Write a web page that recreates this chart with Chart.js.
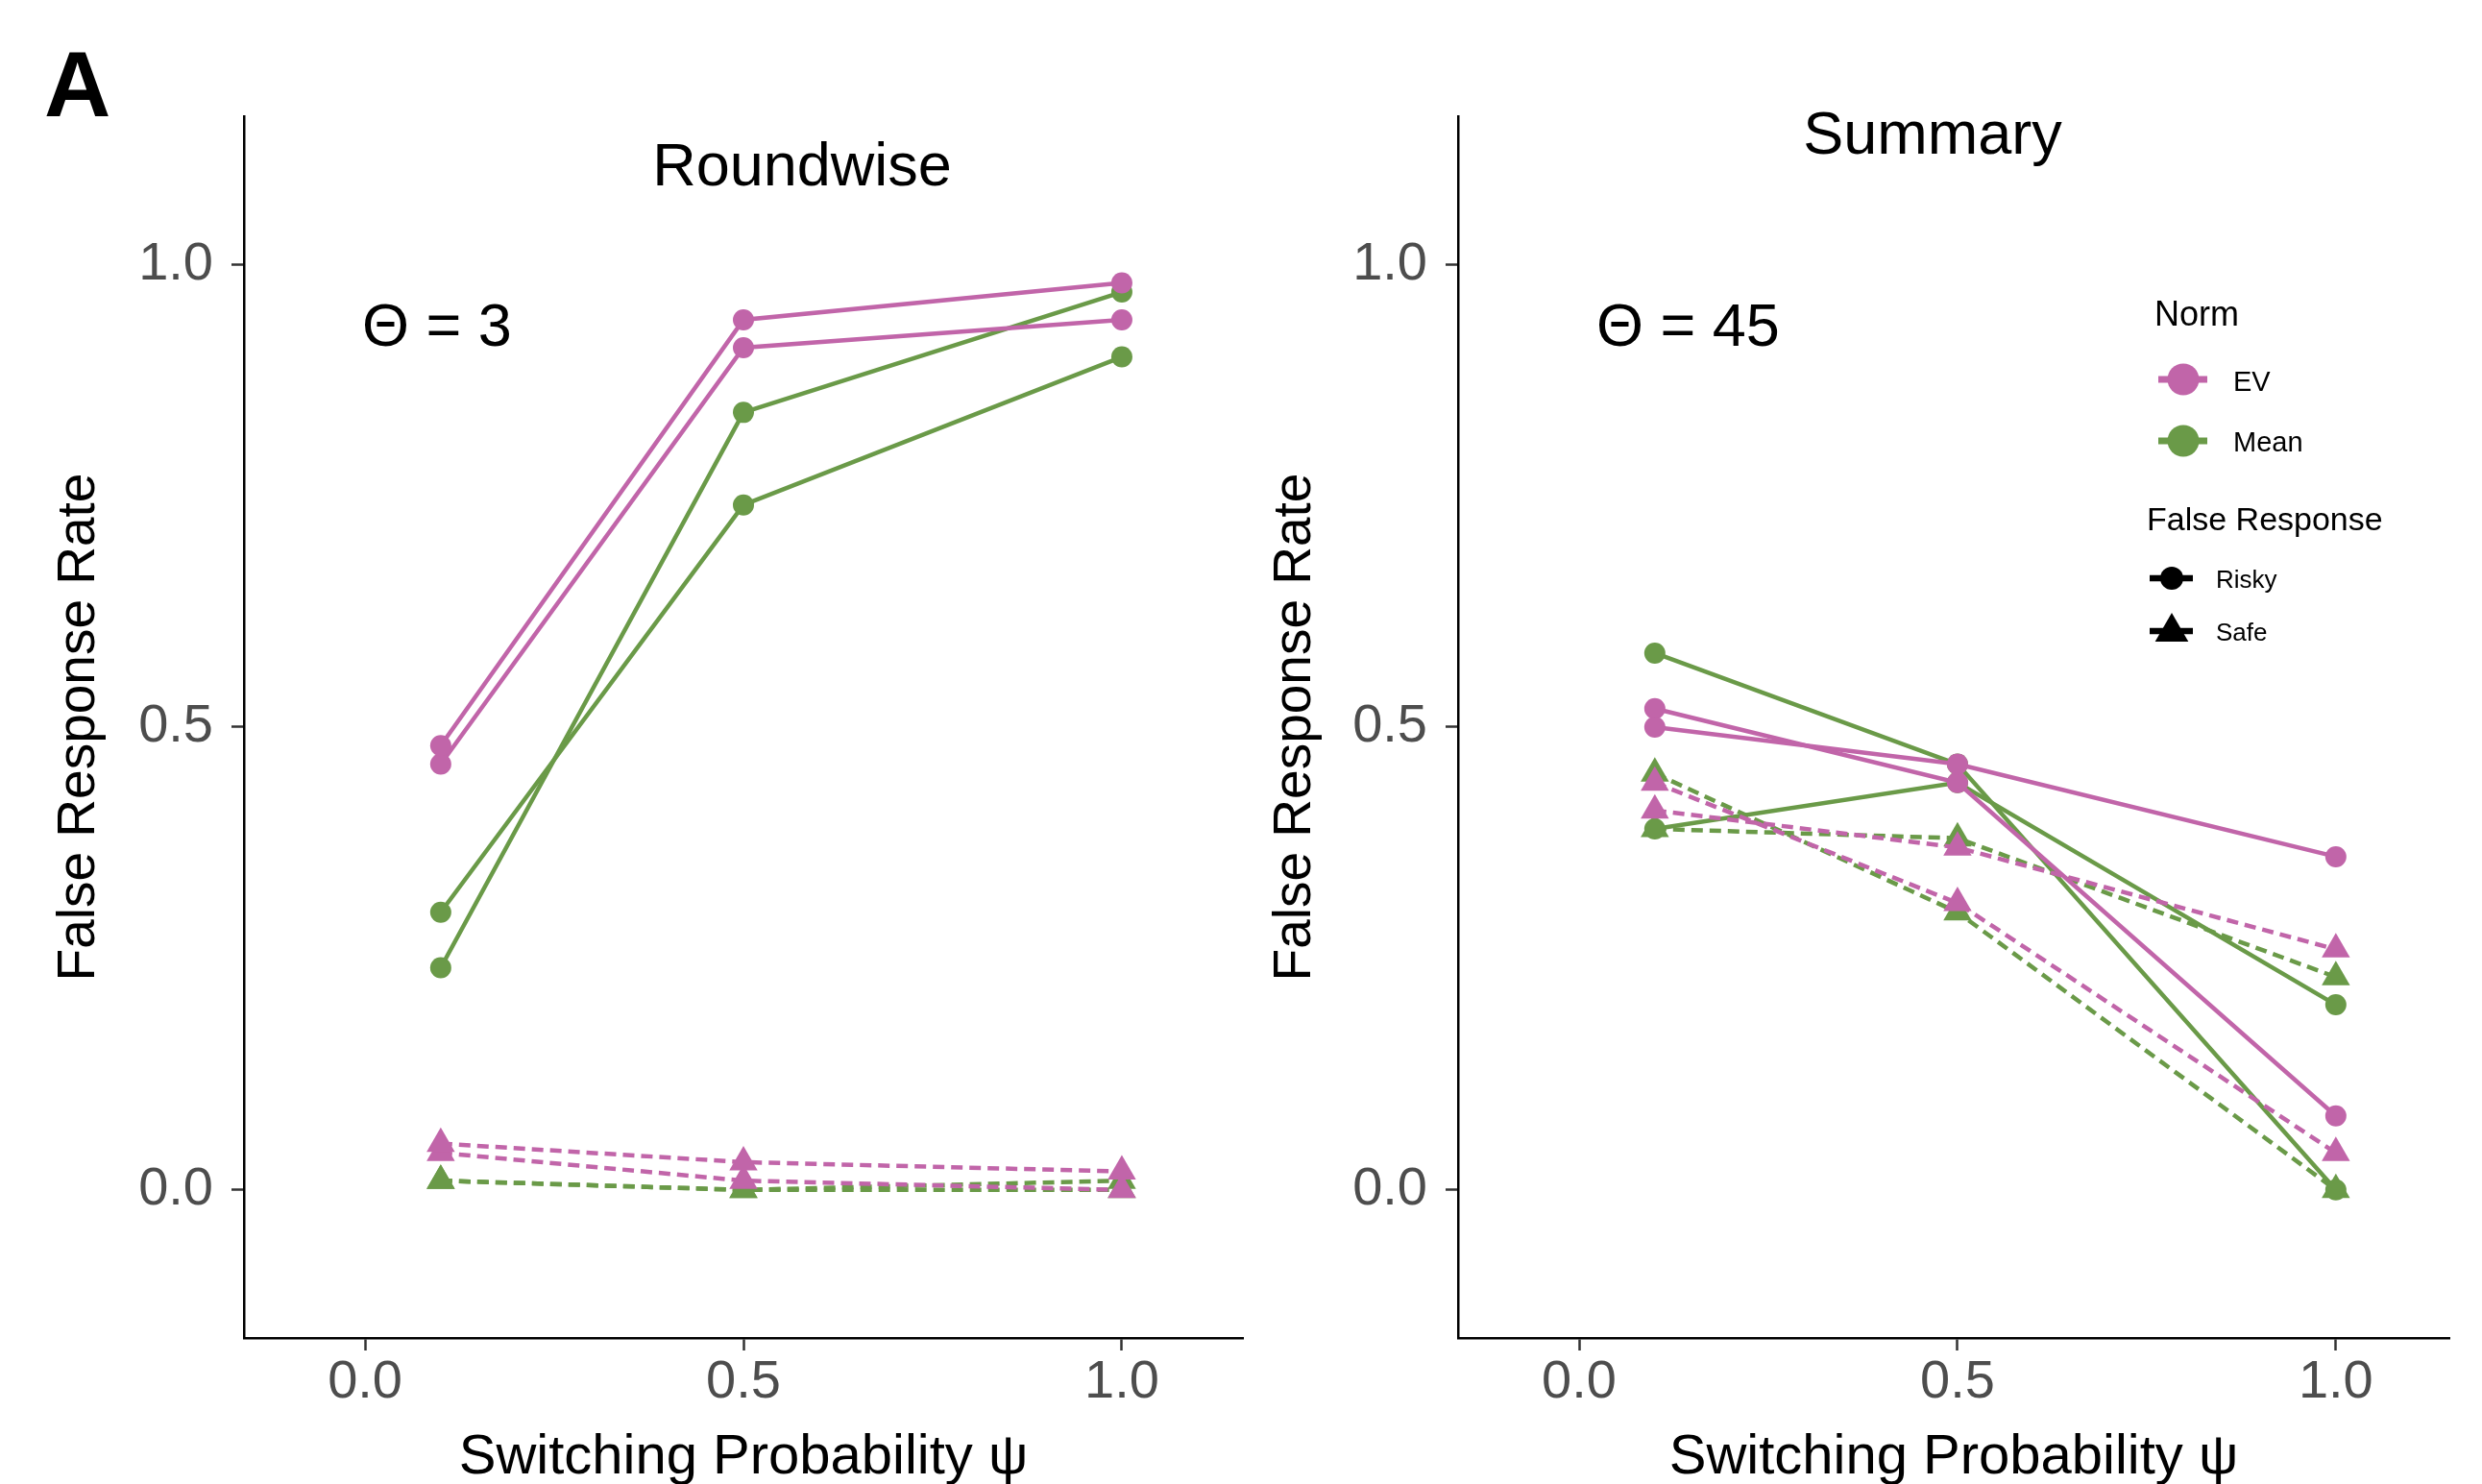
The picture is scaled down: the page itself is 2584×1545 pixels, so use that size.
<!DOCTYPE html>
<html>
<head>
<meta charset="utf-8">
<script src="https://cdn.jsdelivr.net/npm/chart.js@4.4.1/dist/chart.umd.min.js"></script>
<style>
    body { margin: 0; background: #fff; }
    #wrap { position: relative; width: 2584px; height: 1545px; }
    canvas { position: absolute; top: 0; }
</style>
</head>
<body>
<div id="wrap">
    <canvas id="roundwise" width="1300" height="1545" style="left:0px"></canvas>
    <canvas id="summary" width="1284" height="1545" style="left:1300px"></canvas>
</div>
<script>
// x positions (switching probability) and axis ticks
const psi = [0.1, 0.5, 1.0];
const xTicks = [0, 0.5, 1.0];
const yTicks = [0, 0.5, 1.0];

// Roundwise panel, theta = 3
const roundRiskyEV = [[0.48, 0.94, 0.98], [0.46, 0.91, 0.94]];
const roundRiskyMean = [[0.24, 0.84, 0.97], [0.30, 0.74, 0.90]];
const roundSafeEV = [[0.05, 0.03, 0.02], [0.04, 0.01, 0.00]];
const roundSafeMean = [[0.01, 0.00, 0.01], [0.01, 0.00, 0.00]];

// Summary panel, theta = 45
const sumRiskyEV = [[0.50, 0.46, 0.36], [0.52, 0.44, 0.08]];
const sumRiskyMean = [[0.58, 0.46, 0.00], [0.39, 0.44, 0.20]];
const sumSafeEV = [[0.44, 0.31, 0.04], [0.41, 0.37, 0.26]];
const sumSafeMean = [[0.45, 0.30, 0.00], [0.39, 0.38, 0.23]];

const PINK = '#C165A9';
const GREEN = '#6A9A48';
const FONT = '"Liberation Sans", Arial, Helvetica, sans-serif';

function series(values, color, shape) {
    const safe = shape === 'triangle';
    return {
        data: values.map((v, i) => ({ x: psi[i], y: v })),
        borderColor: color,
        backgroundColor: color,
        borderWidth: 4.5,
        borderDash: safe ? [12, 7] : [],
        pointStyle: shape,
        pointRadius: safe ? 17 : 11,
        pointBorderWidth: 0,
        pointBackgroundColor: color,
        tension: 0
    };
}

// first dataset is drawn on top, so pink goes first
function buildDatasets(riskyEV, riskyMean, safeEV, safeMean) {
    const out = [];
    riskyEV.forEach(v => out.push(series(v, PINK, 'circle')));
    safeEV.forEach(v => out.push(series(v, PINK, 'triangle')));
    riskyMean.forEach(v => out.push(series(v, GREEN, 'circle')));
    safeMean.forEach(v => out.push(series(v, GREEN, 'triangle')));
    return out;
}

function buildScales(xMax, yAxisWidth, yTitlePad) {
    const grid = { display: true, drawOnChartArea: false, drawTicks: true, tickLength: 13, tickColor: '#333', tickWidth: 2.5 };
    const border = { display: true, color: '#000', width: 2.5 };
    const tickFont = { family: FONT, size: 56 };
    return {
        x: {
            type: 'linear', min: -0.16, max: xMax,
            grid: grid, border: border,
            afterBuildTicks: s => { s.ticks = xTicks.map(v => ({ value: v })); },
            afterFit: s => { s.height = 152; s.paddingLeft = 0; s.paddingRight = 0; },
            ticks: { font: tickFont, color: '#4D4D4D', padding: 0, maxRotation: 0, autoSkip: false, callback: v => Number(v).toFixed(1) },
            title: { display: true, text: 'Switching Probability ψ', color: '#000', font: { family: FONT, size: 58, lineHeight: 1 }, padding: { top: 0, bottom: -2 } }
        },
        y: {
            type: 'linear', min: -0.16, max: 1.16,
            grid: grid, border: border,
            afterBuildTicks: s => { s.ticks = yTicks.map(v => ({ value: v })); },
            afterFit: s => { s.width = yAxisWidth; },
            ticks: { font: tickFont, color: '#4D4D4D', padding: 19, autoSkip: false, callback: v => Number(v).toFixed(1) },
            title: { display: true, text: 'False Response Rate', color: '#000', font: { family: FONT, size: 55, lineHeight: 1 }, padding: { top: yTitlePad, bottom: 0 } }
        }
    };
}

function textPlugin(items, drawLegend) {
    return {
        id: 'panelText',
        afterDraw(chart) {
            const ctx = chart.ctx;
            ctx.save();
            ctx.fillStyle = '#000';
            ctx.textBaseline = 'alphabetic';
            items.forEach(t => {
                ctx.font = t.font;
                ctx.textAlign = t.align;
                ctx.fillText(t.text, t.x, t.y);
            });
            if (drawLegend) drawLegend(ctx);
            ctx.restore();
        }
    };
}

function keyLine(ctx, x1, x2, y, width, color) {
    ctx.strokeStyle = color;
    ctx.lineWidth = width;
    ctx.beginPath();
    ctx.moveTo(x1, y);
    ctx.lineTo(x2, y);
    ctx.stroke();
}

function keyCircle(ctx, x, y, r, color) {
    ctx.fillStyle = color;
    ctx.beginPath();
    ctx.arc(x, y, r, 0, Math.PI * 2);
    ctx.fill();
}

function keyTriangle(ctx, x, y, r, color) {
    ctx.fillStyle = color;
    ctx.beginPath();
    ctx.moveTo(x, y - r);
    ctx.lineTo(x + r * Math.sqrt(3) / 2, y + r / 2);
    ctx.lineTo(x - r * Math.sqrt(3) / 2, y + r / 2);
    ctx.closePath();
    ctx.fill();
}

function drawLegend(ctx) {
    ctx.textAlign = 'left';
    ctx.fillStyle = '#000';
    ctx.font = '36px ' + FONT;
    ctx.fillText('Norm', 943, 339);

    keyLine(ctx, 947, 998, 395, 7, PINK);
    keyCircle(ctx, 973, 395, 16.5, PINK);
    keyLine(ctx, 947, 998, 459, 7, GREEN);
    keyCircle(ctx, 973, 459, 16.5, GREEN);
    ctx.fillStyle = '#000';
    ctx.font = '29px ' + FONT;
    ctx.fillText('EV', 1025, 407);
    ctx.fillText('Mean', 1025, 470);

    ctx.font = '34px ' + FONT;
    ctx.fillText('False Response', 935, 552);

    keyLine(ctx, 938, 983, 602, 6.5, '#000');
    keyCircle(ctx, 961, 602, 12, '#000');
    keyLine(ctx, 938, 983, 657, 6.5, '#000');
    keyTriangle(ctx, 961, 658, 20, '#000');
    ctx.fillStyle = '#000';
    ctx.font = '26px ' + FONT;
    ctx.fillText('Risky', 1007, 612);
    ctx.fillText('Safe', 1007, 667);
}

function makeChart(id, datasets, scales, padding, plugin) {
    return new Chart(document.getElementById(id), {
        type: 'line',
        data: { datasets: datasets },
        options: {
            responsive: false,
            animation: false,
            devicePixelRatio: 1,
            layout: { padding: padding, autoPadding: false },
            scales: scales,
            plugins: { legend: { display: false }, tooltip: { enabled: false } }
        },
        plugins: [plugin]
    });
}

makeChart('roundwise',
    buildDatasets(roundRiskyEV, roundRiskyMean, roundSafeEV, roundSafeMean),
    buildScales(1.16, 254, 55),
    { top: 121, right: 6, left: 0, bottom: 0 },
    textPlugin([
        { text: 'A', x: 46, y: 121, align: 'left', font: 'bold 96px ' + FONT },
        { text: 'Roundwise', x: 835, y: 193, align: 'center', font: '63px ' + FONT },
        { text: 'Θ = 3', x: 377, y: 360, align: 'left', font: '63px ' + FONT }
    ])
);

makeChart('summary',
    buildDatasets(sumRiskyEV, sumRiskyMean, sumSafeEV, sumSafeMean),
    buildScales(1.15, 218, 21),
    { top: 121, right: 34, left: 0, bottom: 0 },
    textPlugin([
        { text: 'Summary', x: 712, y: 160, align: 'center', font: '63px ' + FONT },
        { text: 'Θ = 45', x: 362, y: 360, align: 'left', font: '63px ' + FONT }
    ], drawLegend)
);
</script>
</body>
</html>
